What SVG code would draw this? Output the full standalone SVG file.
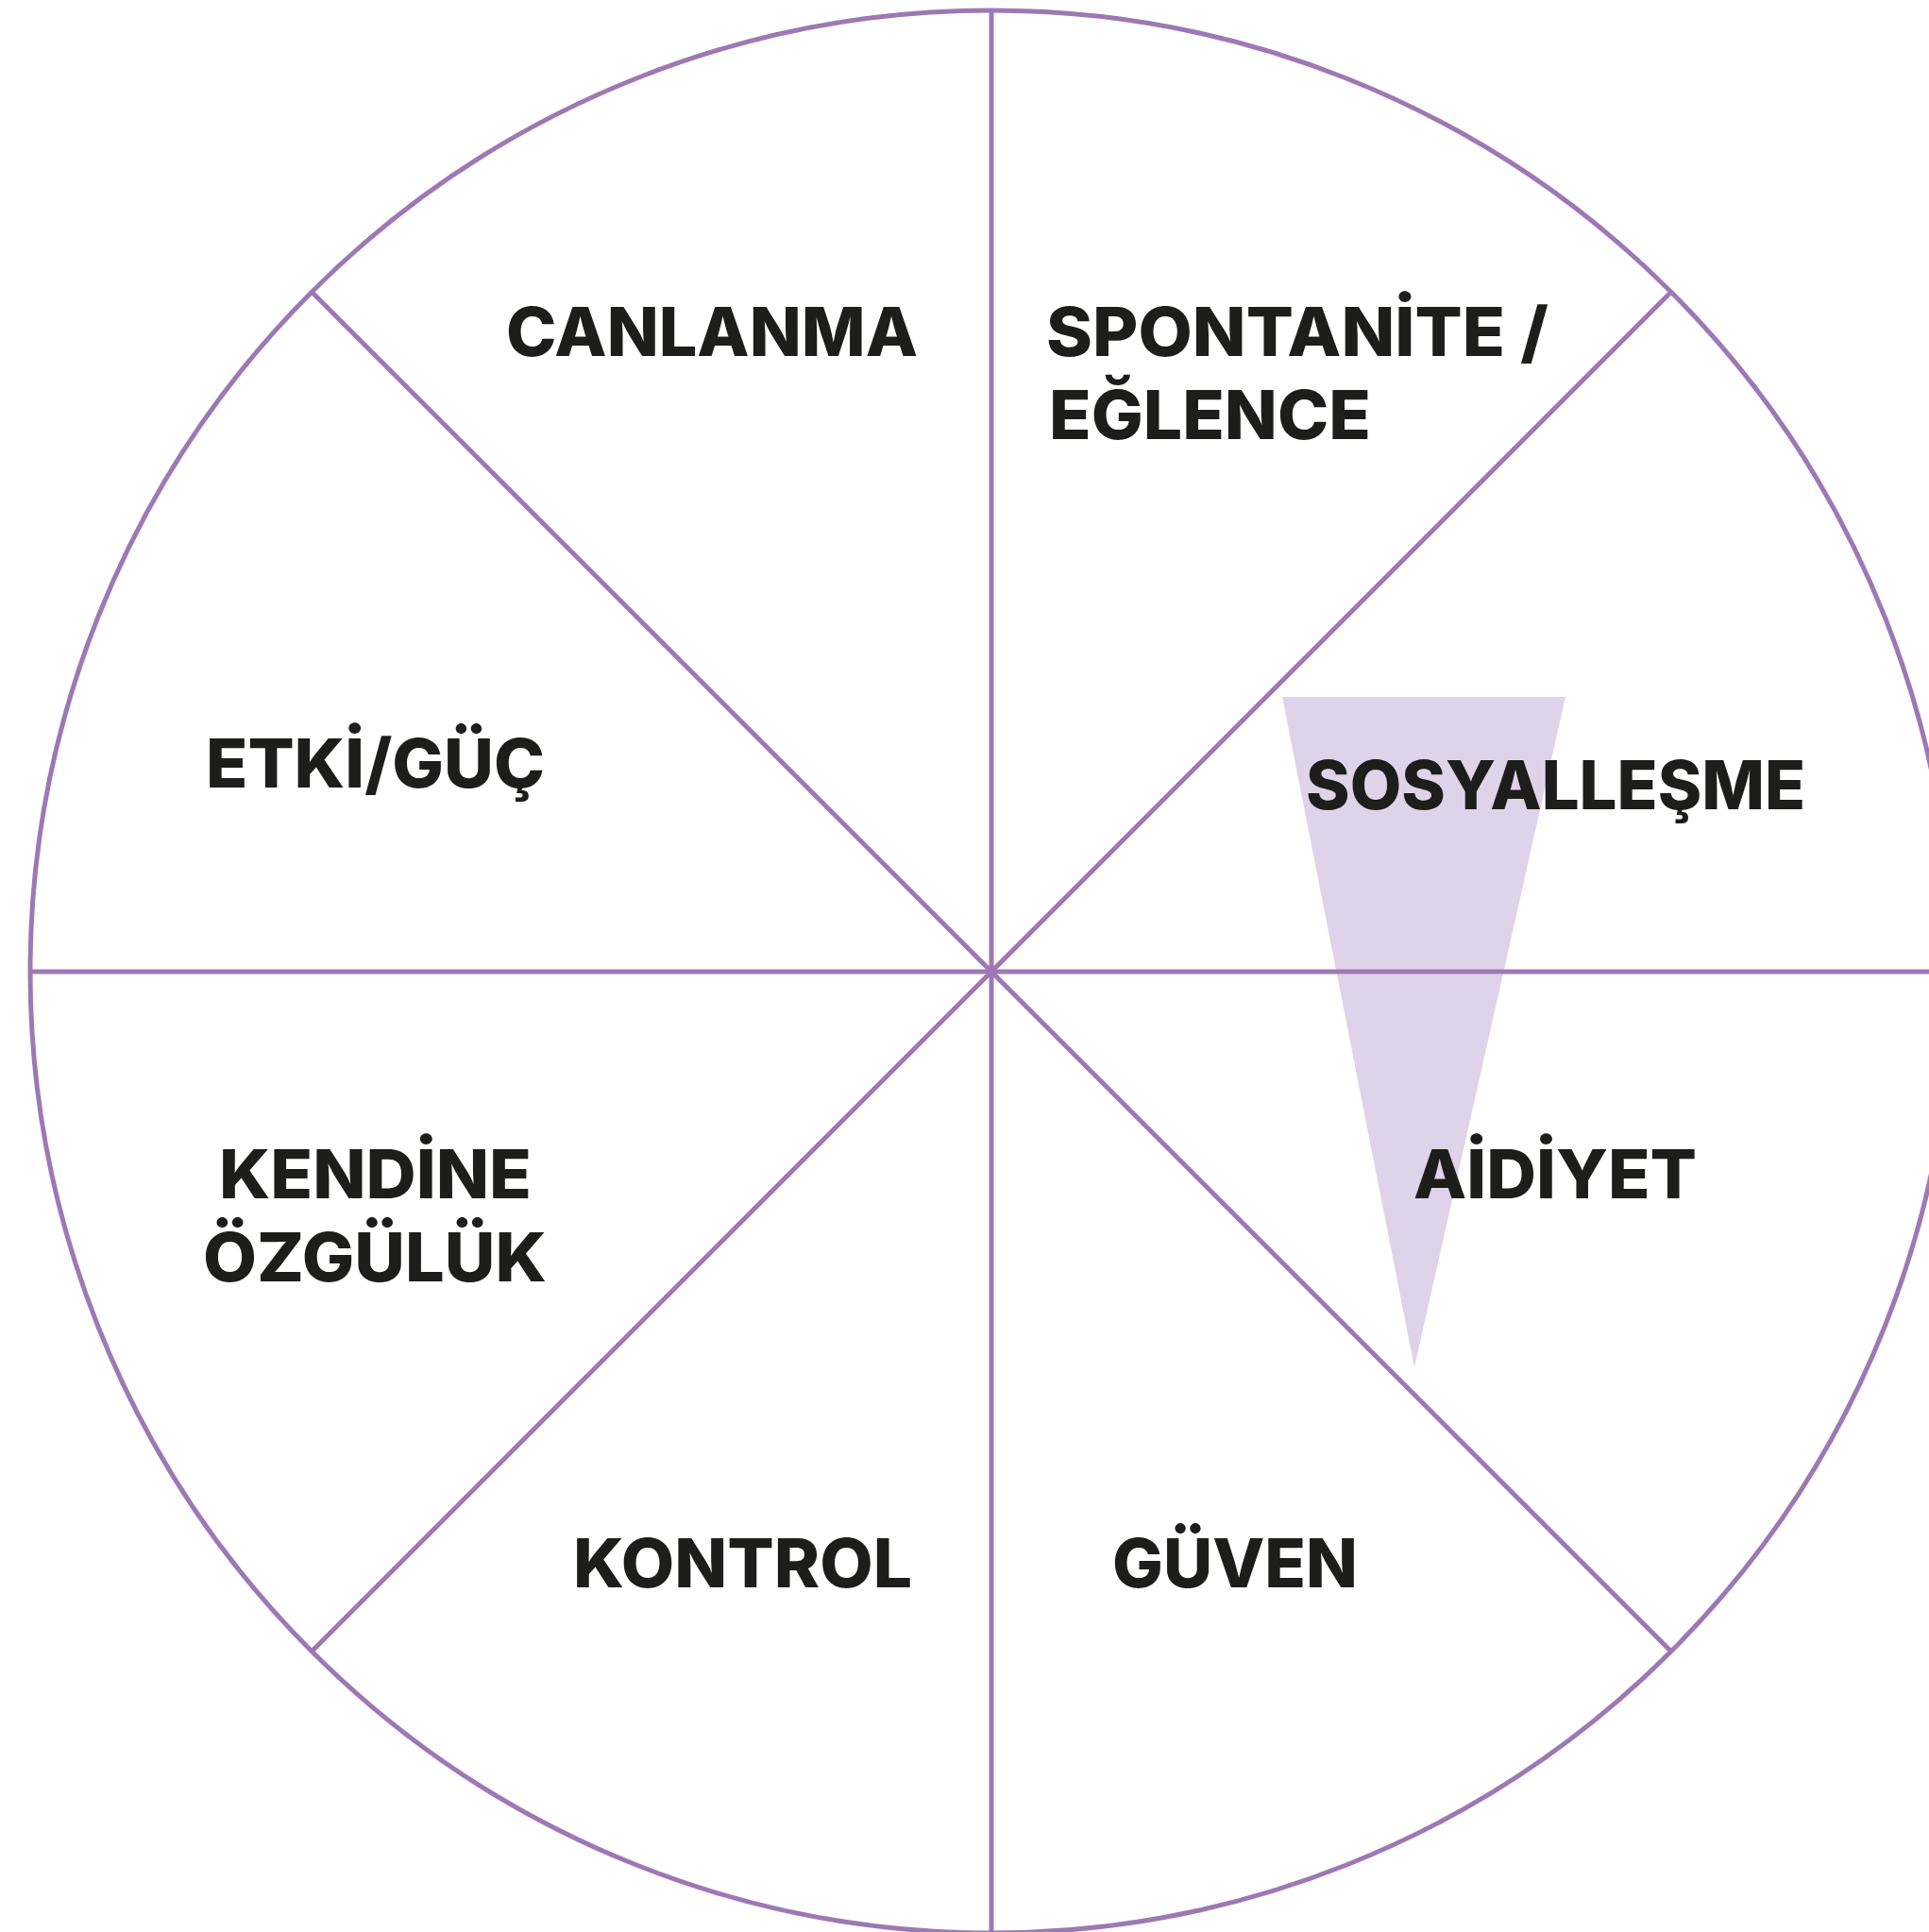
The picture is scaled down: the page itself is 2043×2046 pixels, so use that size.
<svg xmlns="http://www.w3.org/2000/svg" width="2043" height="2046" viewBox="0 0 2043 2046">
  <style>
    .ln { stroke: #9E78B4; stroke-width: 5; fill: none; }
    .lbl { font-family: Inter, "Liberation Sans", sans-serif; font-weight: 800; font-size: 72px; fill: #1D1D1B; }
  </style>
  <rect x="0" y="0" width="2043" height="2046" fill="#FFFFFF"/>
  <g id="highlight">
    <polygon points="1358,738 1658,738 1498,1448" fill="#DFD3EA"/>
  </g>
  <g id="connectors">
    <circle class="ln" cx="1050" cy="1029" r="1018"/>
    <line class="ln" x1="1050" y1="11" x2="1050" y2="2046"/>
    <line class="ln" x1="32" y1="1029" x2="2043" y2="1029"/>
    <line class="ln" x1="330" y1="309" x2="1770" y2="1749"/>
    <line class="ln" x1="330" y1="1749" x2="1770" y2="309"/>
  </g>
  <g id="canlanma"><text class="lbl" x="536" y="377" textLength="436" lengthAdjust="spacingAndGlyphs">CANLANMA</text></g>
  <g id="spontanite"><text class="lbl" x="1108" y="377" textLength="532" lengthAdjust="spacingAndGlyphs">SPONTANİTE /</text><text class="lbl" x="1111" y="465" textLength="341" lengthAdjust="spacingAndGlyphs">EĞLENCE</text></g>
  <g id="etki"><text class="lbl" x="218" y="834" textLength="359" lengthAdjust="spacingAndGlyphs">ETKİ/GÜÇ</text></g>
  <g id="sosyallesme"><text class="lbl" x="1383" y="857" textLength="529" lengthAdjust="spacingAndGlyphs">SOSYALLEŞME</text></g>
  <g id="kendine"><text class="lbl" x="232" y="1269" textLength="331" lengthAdjust="spacingAndGlyphs">KENDİNE</text><text class="lbl" x="215" y="1357" textLength="364" lengthAdjust="spacingAndGlyphs">ÖZGÜLÜK</text></g>
  <g id="aidiyet"><text class="lbl" x="1497" y="1269" textLength="300" lengthAdjust="spacingAndGlyphs">AİDİYET</text></g>
  <g id="kontrol"><text class="lbl" x="607" y="1681" textLength="359" lengthAdjust="spacingAndGlyphs">KONTROL</text></g>
  <g id="guven"><text class="lbl" x="1178" y="1681" textLength="260" lengthAdjust="spacingAndGlyphs">GÜVEN</text></g>
</svg>
